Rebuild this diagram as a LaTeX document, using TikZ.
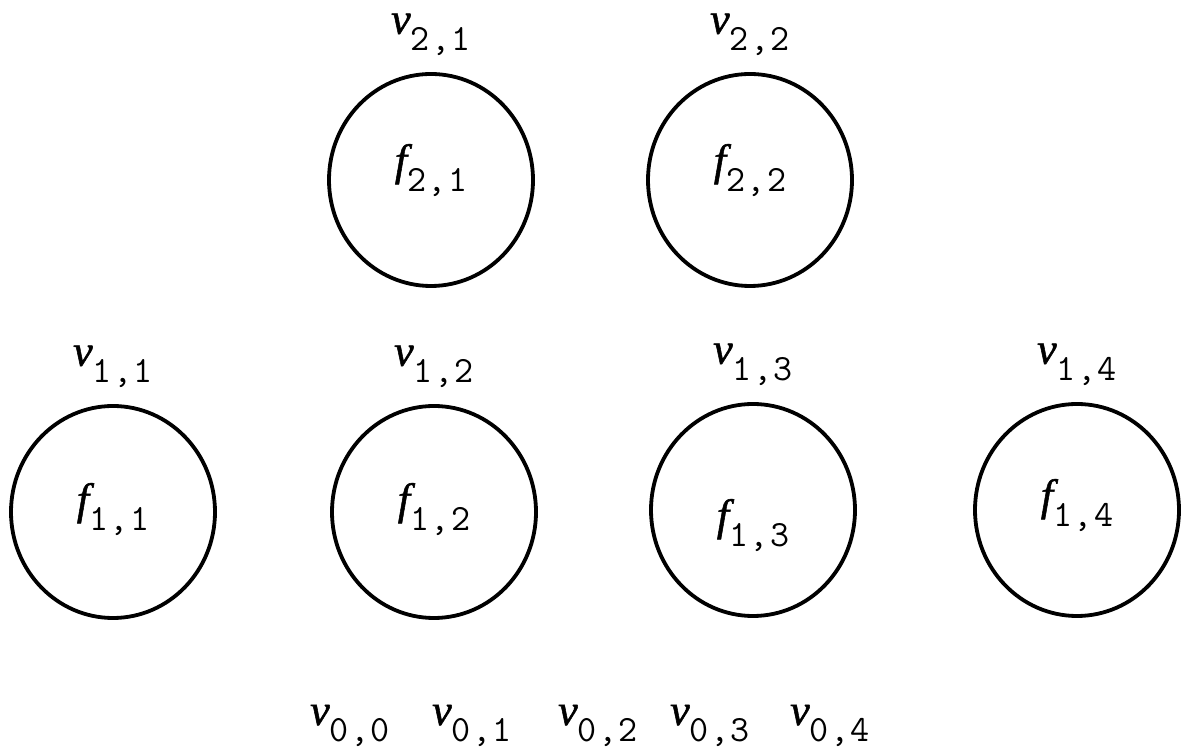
\documentclass[tikz,border=0pt]{standalone}
\usepackage{fontspec}
\setmainfont{Liberation Serif}
\usetikzlibrary{positioning,shapes.geometric}
% letter with a typewriter index pair, index set well below the baseline
\newcommand{\ixlab}[3]{{\itshape\addfontfeature{FakeBold=1.2}#1}\raisebox{-17pt}{\fontsize{37}{37}\selectfont\ttfamily\addfontfeature{FakeBold=2.5}#2\kern1.5pt,\kern1.5pt#3}}

\begin{document}
\begin{tikzpicture}[x=1pt,y=1pt,
    face/.style={ellipse,draw,line width=3.8pt,minimum width=204pt,minimum height=212pt,
                 inner sep=0pt,text height=20pt,text depth=20pt,font=\fontsize{44}{50}\selectfont},
    vlab/.style={inner sep=0pt,font=\fontsize{44}{50}\selectfont}]
  \useasboundingbox (0,0) rectangle (1183,754);
  % --- upper row of faces ---
  \node[face] (f21) at (431,574) {\raisebox{5pt}{\ixlab{f}{2}{1}}};
  \node[face] (f22) at (750,574) {\raisebox{5pt}{\ixlab{f}{2}{2}}};
  % --- lower row of faces ---
  \node[face] (f11) at (113,242) {\raisebox{-2pt}{\ixlab{f}{1}{1}}};
  \node[face] (f12) at (434,242) {\raisebox{-2pt}{\ixlab{f}{1}{2}}};
  \node[face] (f13) at (753,244) {\raisebox{-20pt}{\ixlab{f}{1}{3}}};
  \node[face] (f14) at (1077,244) {\ixlab{f}{1}{4}};
  % --- vertex names over the faces ---
  \foreach \n/\i/\j in {f21/2/1,f22/2/2,f11/1/1,f12/1/2,f13/1/3,f14/1/4}
    \node[vlab,above=16pt of \n] (v\i\j) {\ixlab{v}{\i}{\j}};
  % --- bottom row of vertices ---
  \foreach \x/\j in {310/0,432/1,558/2,670/3,790/4}
    \node[vlab,anchor=base west] (v0\j) at (\x,29) {\ixlab{v}{0}{\j}};
\end{tikzpicture}
\end{document}
